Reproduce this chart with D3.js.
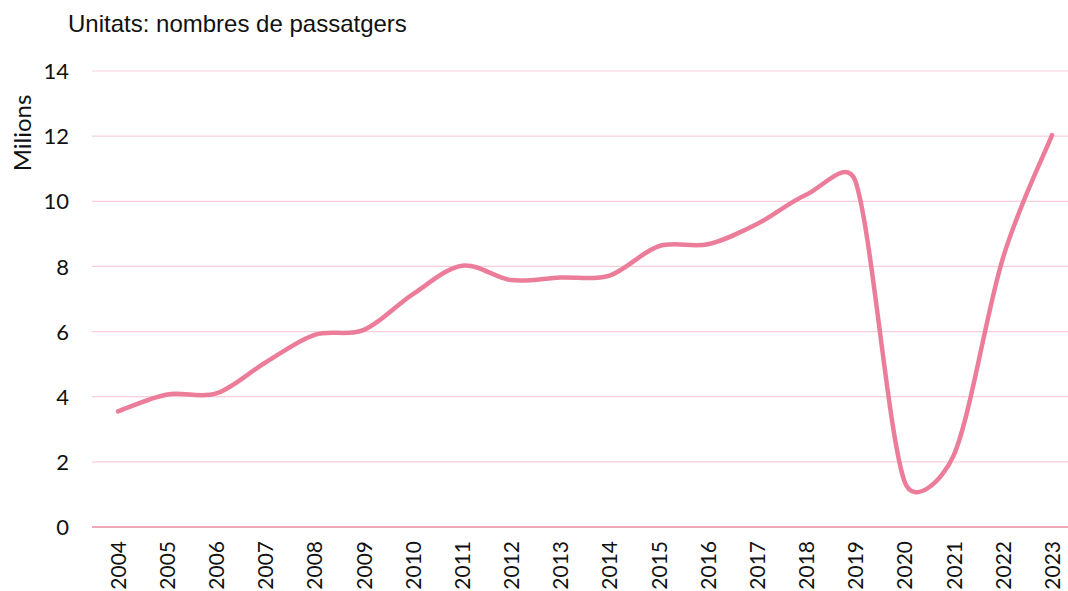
<!DOCTYPE html>
<html><head><meta charset="utf-8">
<script src="https://cdn.jsdelivr.net/npm/d3@7"></script>
<style>
html,body{margin:0;padding:0;background:#fff;overflow:hidden;}
svg{display:block;}
</style></head>
<body>
<svg id="chart" width="1068" height="591"></svg>
<script>
const years = ["2004","2005","2006","2007","2008","2009","2010","2011","2012","2013","2014","2015","2016","2017","2018","2019","2020","2021","2022","2023"];
const passengers = [3.55,4.07,4.1,5.05,5.9,6.05,7.15,8.02,7.58,7.66,7.72,8.62,8.68,9.3,10.2,10.62,1.4,2.2,8.25,12.03];
const yTicks = [0,2,4,6,8,10,12,14];
const title = "Unitats: nombres de passatgers";
const yLabel = "Milions";

(function(){
const svg = d3.select("#chart");
const m = {left: 92, right: 1068, top: 71, bottom: 527};
const x = d3.scalePoint().domain(years).range([118, 1052]);
const y = d3.scaleLinear().domain([0,14]).range([m.bottom, m.top]);

const tickFont = "Lato, 'Open Sans', sans-serif";

// gridlines
svg.append("g").selectAll("line").data(yTicks).join("line")
  .attr("x1", m.left).attr("x2", m.right)
  .attr("y1", d => y(d)).attr("y2", d => y(d))
  .attr("stroke", d => d === 0 ? "#e98ba3" : "#f8cfd9")
  .attr("stroke-width", d => d === 0 ? 1.6 : 1.2);

// y axis labels
const yAxis = d3.axisLeft(y).tickValues(yTicks).tickSize(0).tickPadding(0);
const yg = svg.append("g").attr("transform", "translate(69,0)").call(yAxis);
yg.select(".domain").remove();
yg.selectAll("text").attr("font-family", tickFont).attr("font-size", 22).attr("fill", "#111").attr("dy", "0.35em");

// x axis labels
const xAxis = d3.axisBottom(x).tickSize(0).tickPadding(0);
const xg = svg.append("g").attr("transform", `translate(0,${m.bottom})`).call(xAxis);
xg.select(".domain").remove();
xg.selectAll("text")
  .attr("font-family", tickFont).attr("font-size", 21).attr("fill", "#111")
  .attr("text-anchor", "end")
  .attr("transform", "rotate(-90)")
  .attr("x", -14).attr("y", 0).attr("dy", "0.35em");

// smoothed line (Excel-like bezier smoothing, control points limited by segment length)
const pts = passengers.map((v, i) => [x(years[i]), y(v)]);
function tangent(i) {
  const a = pts[Math.max(i - 1, 0)], b = pts[Math.min(i + 1, pts.length - 1)];
  return [(b[0] - a[0]) / 6, (b[1] - a[1]) / 6];
}
function limit(t, maxLen) {
  const len = Math.hypot(t[0], t[1]);
  if (len <= maxLen || len === 0) return t;
  const s = maxLen / len;
  return [t[0] * s, t[1] * s];
}
const p = d3.path();
p.moveTo(pts[0][0], pts[0][1]);
for (let i = 0; i < pts.length - 1; i++) {
  const P0 = pts[i], P1 = pts[i + 1];
  const L = Math.hypot(P1[0] - P0[0], P1[1] - P0[1]);
  const t0 = limit(tangent(i), 0.5 * L);
  const t1 = limit(tangent(i + 1), 0.5 * L);
  p.bezierCurveTo(P0[0] + t0[0], P0[1] + t0[1], P1[0] - t1[0], P1[1] - t1[1], P1[0], P1[1]);
}
svg.append("path")
  .attr("d", p.toString())
  .attr("fill", "none")
  .attr("stroke", "#ec7d9a")
  .attr("stroke-width", 4.5)
  .attr("stroke-linecap", "round")
  .attr("stroke-linejoin", "round");

// title
svg.append("text").attr("x", 68).attr("y", 32)
  .attr("font-family", "'Liberation Sans', Arial, sans-serif")
  .attr("font-size", 24).attr("fill", "#111").text(title);

// y label
svg.append("text").attr("transform", "translate(31,133) rotate(-90)")
  .attr("text-anchor", "middle")
  .attr("font-family", tickFont).attr("font-size", 24).attr("fill", "#111").text(yLabel);
})();
</script>
</body></html>
